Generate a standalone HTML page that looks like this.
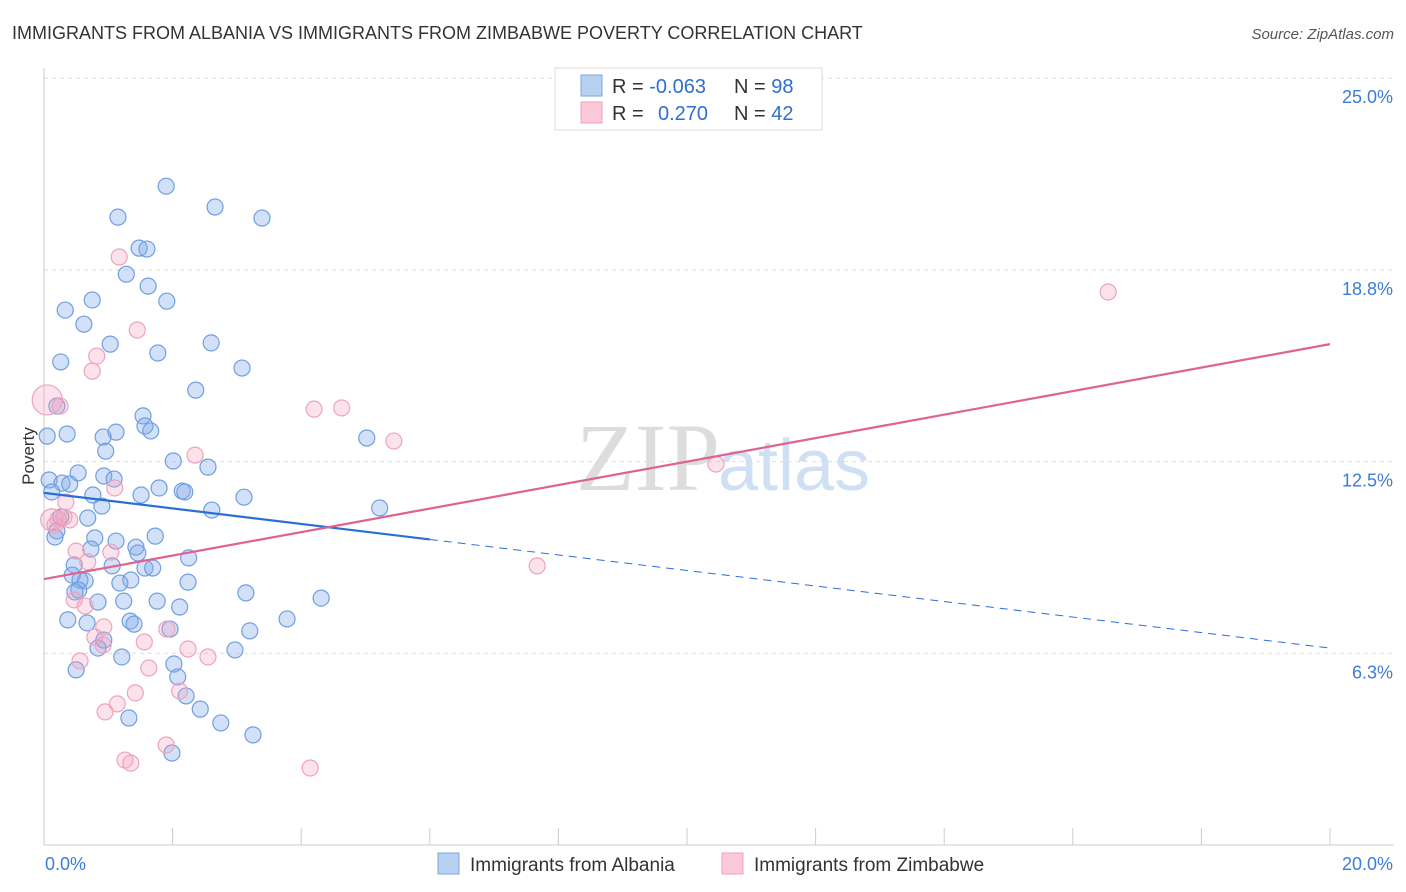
<!DOCTYPE html>
<html><head><meta charset="utf-8">
<style>
body{margin:0;background:#fff;font-family:"Liberation Sans",sans-serif;}
svg{display:block}
</style></head>
<body>
<svg id="chart" width="1406" height="892" viewBox="0 0 1406 892">
<text x="12" y="39" font-size="18" fill="#333">IMMIGRANTS FROM ALBANIA VS IMMIGRANTS FROM ZIMBABWE POVERTY CORRELATION CHART</text>
<text x="1394" y="39" font-size="15" fill="#555" font-style="italic" text-anchor="end">Source: ZipAtlas.com</text>
<text x="720" y="490" font-size="96" fill="#ddd" text-anchor="end" font-family="Liberation Serif,serif">ZIP</text>
<text x="718" y="490" font-size="72" fill="#cfe0f5">atlas</text>
<g id="grid"></g>
<g id="axes"></g>
<g id="pts"></g>
<g id="trend"></g>
<text transform="translate(34,456) rotate(-90)" font-size="17" fill="#333" text-anchor="middle">Poverty</text>
<g>
<rect x="555" y="68" width="267" height="62" fill="#fff" stroke="#ddd"/>
<rect x="581" y="75" width="21" height="21" fill="#b8d1f3" stroke="#7aa7e0"/>
<rect x="581" y="102" width="21" height="21" fill="#fbc9d8" stroke="#f0a0bc"/>
<text x="612" y="93" font-size="20" fill="#333">R = <tspan fill="#2f6fd1">-0.063</tspan><tspan x="734">N = </tspan><tspan fill="#2f6fd1">98</tspan></text>
<text x="612" y="120" font-size="20" fill="#333">R = <tspan x="658" fill="#2f6fd1">0.270</tspan><tspan x="734">N = </tspan><tspan fill="#2f6fd1">42</tspan></text>
</g>
<g>
<rect x="438" y="853" width="21" height="21" fill="#b8d1f3" stroke="#7aa7e0"/>
<text x="470" y="871" font-size="19" fill="#333">Immigrants from Albania</text>
<rect x="722" y="853" width="21" height="21" fill="#fbc9d8" stroke="#f0a0bc"/>
<text x="754" y="871" font-size="19" fill="#333">Immigrants from Zimbabwe</text>
</g>
</svg>
<script>
const albaniaX=[1.90,1.15,2.66,3.39,1.48,1.60,1.28,1.62,0.75,1.91,0.33,0.62,1.03,2.60,1.77,0.26,3.08,2.36,0.20,1.54,1.57,1.66,1.12,0.36,0.92,5.02,0.05,0.96,2.01,2.55,0.53,0.93,1.09,0.08,0.28,0.40,0.12,0.76,1.79,2.15,2.19,1.51,3.11,0.90,2.61,5.22,0.68,0.26,0.20,0.17,1.73,0.79,1.12,0.73,1.43,1.46,2.25,0.47,1.06,1.57,1.69,0.44,0.64,0.56,1.35,1.18,2.24,0.54,0.48,3.14,4.31,0.84,1.24,1.76,2.11,0.37,3.78,1.34,1.40,0.67,1.96,3.20,0.93,0.84,2.97,1.21,0.50,2.02,2.08,2.21,2.43,1.32,2.75,3.25,1.99];
const albaniaY=[21.48,20.47,20.80,20.44,19.46,19.43,18.61,18.22,17.77,17.73,17.44,16.98,16.33,16.37,16.04,15.75,15.55,14.83,14.31,13.99,13.66,13.50,13.46,13.40,13.30,13.27,13.33,12.84,12.52,12.32,12.13,12.03,11.93,11.90,11.80,11.77,11.51,11.41,11.64,11.54,11.51,11.41,11.34,11.05,10.92,10.99,10.66,10.69,10.24,10.04,10.07,10.01,9.91,9.65,9.71,9.52,9.36,9.13,9.10,9.03,9.03,8.80,8.61,8.64,8.64,8.54,8.57,8.31,8.25,8.22,8.05,7.92,7.95,7.95,7.76,7.34,7.37,7.30,7.20,7.24,7.04,6.98,6.68,6.42,6.36,6.13,5.71,5.90,5.48,4.86,4.43,4.14,3.98,3.59,3.00];
const zimX=[0.05,0.25,1.17,1.45,0.82,0.75,4.20,4.63,5.44,2.35,1.10,0.34,0.12,0.22,0.31,0.40,0.17,0.50,1.04,0.68,7.67,10.45,16.55,0.47,0.64,0.93,0.79,0.92,1.91,1.56,2.24,2.55,0.56,1.63,2.11,1.42,1.14,0.95,1.90,1.26,1.35,4.14];
const zimY=[14.51,14.31,19.17,16.79,15.94,15.45,14.21,14.25,13.17,12.71,11.64,11.18,10.60,10.63,10.69,10.60,10.43,9.58,9.55,9.23,9.10,12.42,18.03,7.99,7.79,7.11,6.78,6.52,7.04,6.62,6.39,6.13,6.00,5.77,5.02,4.96,4.60,4.34,3.26,2.77,2.67,2.51];
const yTicks=[25,18.75,12.5,6.25];
const yTickLabels=["25.0%","18.8%","12.5%","6.3%"];
const xTickVals=[0,2,4,6,8,10,12,14,16,18,20];
const albaniaTrend=[11.48,-0.253];
const zimTrend=[8.67,0.383];
const NS="http://www.w3.org/2000/svg";
const sx=v=>44+v/20*1286;
const sy=v=>845-v/6.25*191.7;
function mk(tag,attrs,parent){const e=document.createElementNS(NS,tag);for(const k in attrs)e.setAttribute(k,attrs[k]);parent.appendChild(e);return e;}
const grid=document.getElementById('grid'),axes=document.getElementById('axes'),pts=document.getElementById('pts'),tr=document.getElementById('trend');
yTicks.forEach((t,i)=>{
 const l=mk('line',{x1:44,x2:1394,y1:sy(t),y2:sy(t),stroke:'#ddd','stroke-dasharray':'4,4'},grid);
 
 
 const tx=mk('text',{x:1393,y:sy(t)+25,'font-size':18,fill:'#3b7dd8','text-anchor':'end'},axes);
 tx.textContent=yTickLabels[i];
 
 
});
const ax=mk('line',{x1:44,x2:1394,y1:845,y2:845,stroke:'#ccc'},axes);


const ay=mk('line',{x1:44,x2:44,y1:68,y2:845,stroke:'#ccc'},axes);


xTickVals.forEach(v=>{
 const t=mk('line',{x1:sx(v),x2:sx(v),y1:828,y2:845,stroke:'#ccc'},axes);
 
 
});
const xl0=mk('text',{x:45,y:870,'font-size':18,fill:'#3b7dd8'},axes);xl0.textContent='0.0%';


const xl1=mk('text',{x:1393,y:870,'font-size':18,fill:'#3b7dd8','text-anchor':'end'},axes);xl1.textContent='20.0%';


albaniaX.forEach((x,i)=>{
 const c=mk('circle',{cx:sx(x),cy:sy(albaniaY[i]),r:8,fill:'rgba(130,170,235,0.35)',stroke:'#6f9fe0','stroke-width':1.2},pts);
 
 
});
zimX.forEach((x,i)=>{
 const c=mk('circle',{cx:sx(x),cy:sy(zimY[i]),r:i==0?15:(i==12?11:8),fill:'rgba(245,160,190,0.3)',stroke:'#eea3bd','stroke-width':1.2},pts);
 
 
});
const fb=x=>albaniaTrend[0]+albaniaTrend[1]*x, fz=x=>zimTrend[0]+zimTrend[1]*x;
const b1=mk('line',{x1:sx(0),y1:sy(fb(0)),x2:sx(6),y2:sy(fb(6)),stroke:'#2a6fd6','stroke-width':2.2},tr);


const b2=mk('line',{x1:sx(6),y1:sy(fb(6)),x2:sx(20),y2:sy(fb(20)),stroke:'#2a6fd6','stroke-width':1,'stroke-dasharray':'8,6'},tr);


const z1=mk('line',{x1:sx(0),y1:sy(fz(0)),x2:sx(20),y2:sy(fz(20)),stroke:'#e0628f','stroke-width':2.2},tr);


</script>
</body></html>
